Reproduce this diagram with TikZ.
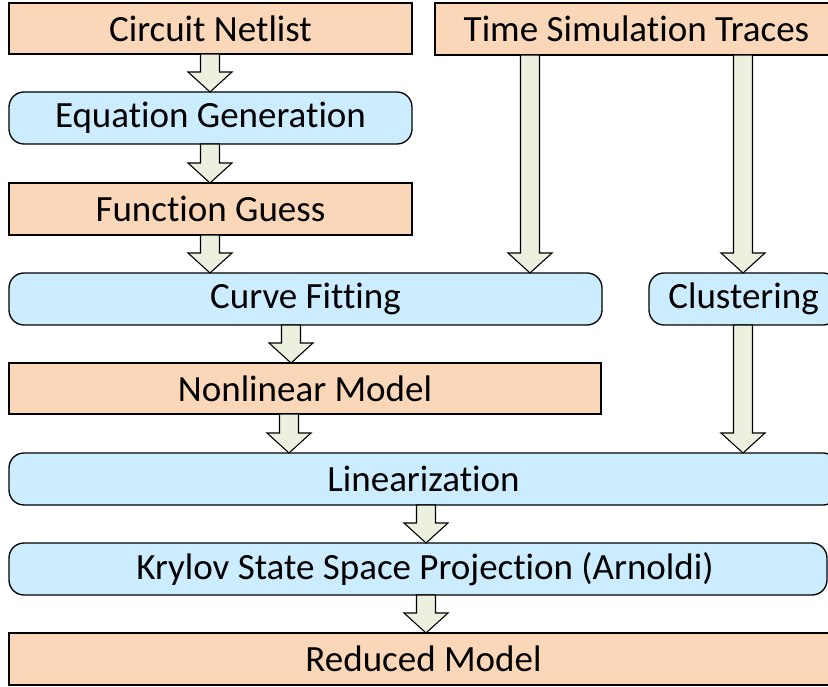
\documentclass[tikz,border=0pt]{standalone}
\usepackage{fontspec}
\setmainfont{Carlito}[Ligatures=NoCommon]
\usetikzlibrary{calc}
\definecolor{boxorange}{RGB}{250,215,185}
\definecolor{boxblue}{RGB}{204,236,255}
\definecolor{arrowfill}{RGB}{235,241,222}
\tikzset{
  basebox/.style={draw=black, line width=1.3pt, inner sep=0pt, outer sep=0pt,
    font=\fontsize{37}{40}\selectfont, text=black},
  obox/.style={basebox, fill=boxorange},
  bbox/.style={basebox, fill=boxblue, rounded corners=15pt},
  blkarrow/.style={draw=black, line width=1.1pt, fill=arrowfill, line join=miter},
}
% #1 = x position, #2 = from node, #3 = to node
\newcommand\blockarrow[3]{%
  \draw[blkarrow] let \p1=(#2.south), \p2=(#3.north) in
    ({(#1-9.5)*1pt},\y1) -- ({(#1+9.5)*1pt},\y1) -- ({(#1+9.5)*1pt},{\y2+20pt})
    -- ({(#1+22)*1pt},{\y2+20pt}) -- ({#1*1pt},\y2) -- ({(#1-22)*1pt},{\y2+20pt})
    -- ({(#1-9.5)*1pt},{\y2+20pt}) -- cycle;}
\begin{document}
\begin{tikzpicture}[x=1pt,y=-1pt]
\useasboundingbox (0,0) rectangle (828,687);
\clip (0,0) rectangle (828,687);
\node[obox, minimum width=403pt, minimum height=51pt] (cn) at (210.5,28.5) {Circuit Netlist};
\node[obox, minimum width=403pt, minimum height=52pt] (ts) at (636.5,29) {Time Simulation Traces};
\node[bbox, minimum width=403pt, minimum height=52pt] (eq) at (210.5,118) {Equation Generation};
\node[obox, minimum width=403pt, minimum height=52pt] (fg) at (210.5,209) {Function Guess};
\node[bbox, minimum width=593pt, minimum height=52pt] (cf) at (305.5,299) {Curve Fitting};
\node[bbox, minimum width=189pt, minimum height=52pt] (cl) at (743.5,299) {Clustering};
\node[obox, minimum width=592pt, minimum height=51pt] (nm) at (305,388.5) {Nonlinear Model};
\node[bbox, minimum width=829pt, minimum height=52pt] (li) at (423.5,479) {Linearization};
\node[bbox, minimum width=818pt, minimum height=52pt] (kr) at (418,569) {\hspace*{14pt}Krylov State Space Projection (Arnoldi)};
\node[obox, minimum width=829pt, minimum height=52pt] (rm) at (423.5,659) {Reduced Model};
\blockarrow{210}{cn}{eq}
\blockarrow{210}{eq}{fg}
\blockarrow{210}{fg}{cf}
\blockarrow{530}{ts}{cf}
\blockarrow{743}{ts}{cl}
\blockarrow{291}{cf}{nm}
\blockarrow{289}{nm}{li}
\blockarrow{743}{cl}{li}
\blockarrow{426}{li}{kr}
\blockarrow{426}{kr}{rm}
\end{tikzpicture}
\end{document}
